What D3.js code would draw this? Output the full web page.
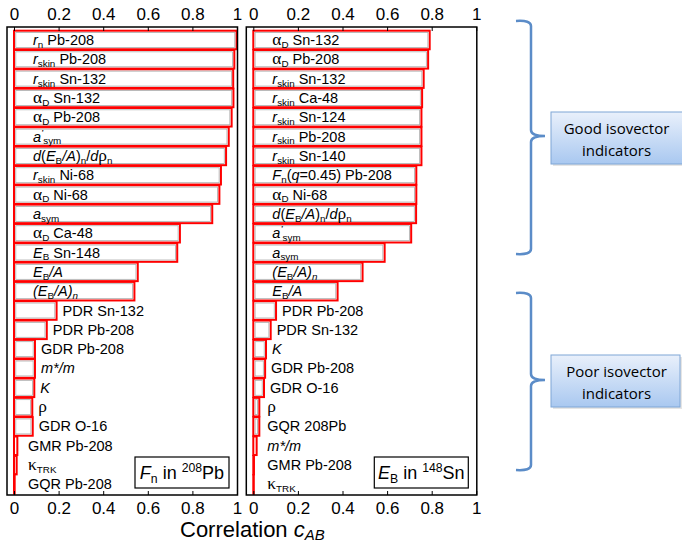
<!DOCTYPE html>
<html>
<head>
<meta charset="utf-8">
<script src="https://cdn.jsdelivr.net/npm/d3@7"></script>
<style>
  body { margin: 0; background: #fff; }
  svg { display: block; }
</style>
</head>
<body>
<svg id="chart" width="682" height="544"></svg>
<script>
// labels use a tiny markup: {i:..} italic, {s:..} subscript, {g:..} greek, {p:..} superscript
const leftLabels = [
  "{i:r}{s:n} Pb-208", "{i:r}{s:skin} Pb-208", "{i:r}{s:skin} Sn-132", "{g:α}{s:D} Sn-132",
  "{g:α}{s:D} Pb-208", "{i:a}{pi:’}{s:sym}", "{i:d}({i:E}{s:B}{i:/A}){s:n}/{i:d}{g:ρ}{s:n}",
  "{i:r}{s:skin} Ni-68", "{g:α}{s:D} Ni-68", "{i:a}{s:sym}", "{g:α}{s:D} Ca-48",
  "{i:E}{s:B} Sn-148", "{i:E}{s:B}{i:/A}", "{i:(E}{s:B}{i:/A)}{si:n}", "PDR Sn-132",
  "PDR Pb-208", "GDR Pb-208", "{i:m*/m}", "{i:K}", "{g:ρ}", "GDR O-16", "GMR Pb-208",
  "{g:κ}{s:TRK}", "GQR Pb-208"
];
const leftValues = [
  0.998, 0.988, 0.983, 0.984, 0.976, 0.963, 0.951, 0.928, 0.921, 0.889, 0.744, 0.732,
  0.555, 0.540, 0.191, 0.147, 0.094, 0.094, 0.091, 0.082, 0.084, 0.015, 0.012, 0.003
];

const rightLabels = [
  "{g:α}{s:D} Sn-132", "{g:α}{s:D} Pb-208", "{i:r}{s:skin} Sn-132", "{i:r}{s:skin} Ca-48",
  "{i:r}{s:skin} Sn-124", "{i:r}{s:skin} Pb-208", "{i:r}{s:skin} Sn-140",
  "{i:F}{s:n}({i:q}=0.45) Pb-208", "{g:α}{s:D} Ni-68",
  "{i:d}({i:E}{s:B}{i:/A}){s:n}/{i:d}{g:ρ}{s:n}", "{i:a}{pi:’}{s:sym}", "{i:a}{s:sym}",
  "{i:(E}{s:B}{i:/A)}{si:n}", "{i:E}{s:B}{i:/A}", "PDR Pb-208", "PDR Sn-132", "{i:K}",
  "GDR Pb-208", "GDR O-16", "{g:ρ}", "GQR 208Pb", "{i:m*/m}", "GMR Pb-208", "{g:κ}{s:TRK}"
];
const rightValues = [
  0.791, 0.784, 0.764, 0.757, 0.754, 0.754, 0.754, 0.731, 0.731, 0.730, 0.708, 0.589,
  0.490, 0.378, 0.102, 0.078, 0.057, 0.053, 0.048, 0.027, 0.027, 0.015, 0.003, 0.002
];

const tickValues = [0, 0.2, 0.4, 0.6, 0.8, 1];
const panelTitles = ["{i:F}{s:n} in {p:208}Pb", "{i:E}{s:B} in {p:148}Sn"];
const groupNames = [["Good isovector", "indicators"], ["Poor isovector", "indicators"]];

const svg = d3.select("#chart");
const sans = "'Liberation Sans', Arial, sans-serif";
const serif = "'Liberation Serif', 'Times New Roman', serif";

const frameTop = 27, frameBottom = 495;
const y = d3.scaleBand()
  .domain(d3.range(24))
  .range([30.7, 493.7])
  .paddingInner(0.04);

function richText(sel, str, size) {
  const re = /\{(\w+):([^}]*)\}|([^{]+)/g;
  let m, shift = 0;
  while ((m = re.exec(str))) {
    const kind = m[1] || "t";
    const txt = m[2] !== undefined ? m[2] : m[3];
    const sub = kind.includes("s"), sup = kind.includes("p");
    const target = sub ? size * 0.2 : sup ? -size * 0.4 : 0;
    const ts = sel.append("tspan").text(txt).attr("dy", target - shift);
    shift = target;
    if (sub || sup) ts.attr("font-size", size * 0.68);
    if (kind.includes("i")) ts.attr("font-style", "italic");
    if (kind.includes("g")) ts.attr("font-family", serif).attr("font-size", size * 1.2);
  }
}

function drawPanel(x0, labels, values, title) {
  const x = d3.scaleLinear().domain([0, 1]).range([x0, x0 + 223]);
  const g = svg.append("g");

  // bars
  values.forEach((v, i) => {
    g.append("rect")
      .attr("x", x(0))
      .attr("y", y(i))
      .attr("width", Math.max(x(v) - x(0), 0.5))
      .attr("height", y.bandwidth())
      .attr("fill", "#fff")
      .attr("stroke", "#f00")
      .attr("stroke-width", 2);
    if (x(v) - x(0) > 5) {
      g.append("rect")
        .attr("x", x(0) + 1.8)
        .attr("y", y(i) + 1.8)
        .attr("width", x(v) - x(0) - 3.6)
        .attr("height", y.bandwidth() - 3.6)
        .attr("fill", "none")
        .attr("stroke", "#aaa")
        .attr("stroke-width", 0.8);
    }
  });

  // labels
  labels.forEach((lab, i) => {
    const v = values[i];
    const lx = v > 0.3 ? x(0) + 19 : Math.max(x(v) + 6, x(0) + 14);
    const t = g.append("text")
      .attr("x", lx)
      .attr("y", y(i) + y.bandwidth() / 2 + 5)
      .attr("font-family", sans)
      .attr("font-size", 14.5)
      .attr("fill", "#000");
    richText(t, lab, 14.5);
  });

  // frame
  g.append("rect")
    .attr("x", x(0) - 7)
    .attr("y", frameTop)
    .attr("width", x(1) - x(0) + 7.5)
    .attr("height", frameBottom - frameTop)
    .attr("fill", "none")
    .attr("stroke", "#000")
    .attr("stroke-width", 1.5);

  const fmt = d3.format("");
  const topAxis = g.append("g")
    .attr("transform", `translate(0,${frameTop})`)
    .call(d3.axisTop(x).tickValues(tickValues).tickFormat(fmt).tickSizeInner(-4).tickSizeOuter(0).tickPadding(7));
  const botAxis = g.append("g")
    .attr("transform", `translate(0,${frameBottom})`)
    .call(d3.axisBottom(x).tickValues(tickValues).tickFormat(fmt).tickSizeInner(-4).tickSizeOuter(0).tickPadding(7));
  [topAxis, botAxis].forEach(a => {
    a.select(".domain").remove();
    a.selectAll("text").attr("font-family", sans).attr("font-size", 17).attr("fill", "#000");
    a.selectAll("line").attr("stroke", "#000");
  });

  // legend box
  g.append("rect")
    .attr("x", x(0) + 121)
    .attr("y", 457)
    .attr("width", 94)
    .attr("height", 31)
    .attr("fill", "#fff")
    .attr("stroke", "#000")
    .attr("stroke-width", 1.2);
  const tt = g.append("text")
    .attr("x", x(0) + 168)
    .attr("y", 479)
    .attr("text-anchor", "middle")
    .attr("font-family", sans)
    .attr("font-size", 18);
  richText(tt, title, 18);
}

drawPanel(14, leftLabels, leftValues, panelTitles[0]);
drawPanel(253.3, rightLabels, rightValues, panelTitles[1]);

// axis title
const at = svg.append("text")
  .attr("x", 180)
  .attr("y", 537)
  .attr("font-family", sans)
  .attr("font-size", 22);
richText(at, "Correlation {i:c}{si:AB}", 22);
at.selectAll("tspan").filter((d, i) => i === 2).attr("dy", 3);

// braces and boxes on the right
const defs = svg.append("defs");
const grad = defs.append("linearGradient").attr("id", "boxgrad")
  .attr("x1", 0).attr("y1", 0).attr("x2", 0).attr("y2", 1);
grad.append("stop").attr("offset", "0%").attr("stop-color", "#e9f0fb");
grad.append("stop").attr("offset", "100%").attr("stop-color", "#a9c8f0");

const braces = [
  { y0: 20, y1: 255, mid: 136, box: [551, 112, 133, 52] },
  { y0: 292, y1: 471, mid: 380, box: [551, 355, 129, 52] }
];

braces.forEach((b, k) => {
  const p = d3.path();
  p.moveTo(516, b.y0 + 1);
  p.quadraticCurveTo(531, b.y0, 531, b.y0 + 6);
  p.lineTo(531, b.mid - 6);
  p.quadraticCurveTo(531, b.mid, 545, b.mid);
  p.quadraticCurveTo(531, b.mid, 531, b.mid + 6);
  p.lineTo(531, b.y1 - 6);
  p.quadraticCurveTo(531, b.y1, 516, b.y1 - 1);
  svg.append("path")
    .attr("d", p.toString())
    .attr("fill", "none")
    .attr("stroke", "#5b8cc8")
    .attr("stroke-width", 2.5);

  const [bx, by, bw, bh] = b.box;
  svg.append("rect")
    .attr("x", bx + 2).attr("y", by + 2)
    .attr("width", bw).attr("height", bh)
    .attr("fill", "#ccc").attr("opacity", 0.5);
  svg.append("rect")
    .attr("x", bx).attr("y", by)
    .attr("width", bw).attr("height", bh)
    .attr("fill", "url(#boxgrad)")
    .attr("stroke", "#7fa6d6")
    .attr("stroke-width", 1);
  groupNames[k].forEach((line, j) => {
    svg.append("text")
      .attr("x", 616.5)
      .attr("y", by + 22 + j * 21.5)
      .attr("text-anchor", "middle")
      .attr("font-family", "'Open Sans', Lato, sans-serif")
      .attr("font-size", 15)
      .attr("fill", "#000")
      .text(line);
  });
});
</script>
</body>
</html>
